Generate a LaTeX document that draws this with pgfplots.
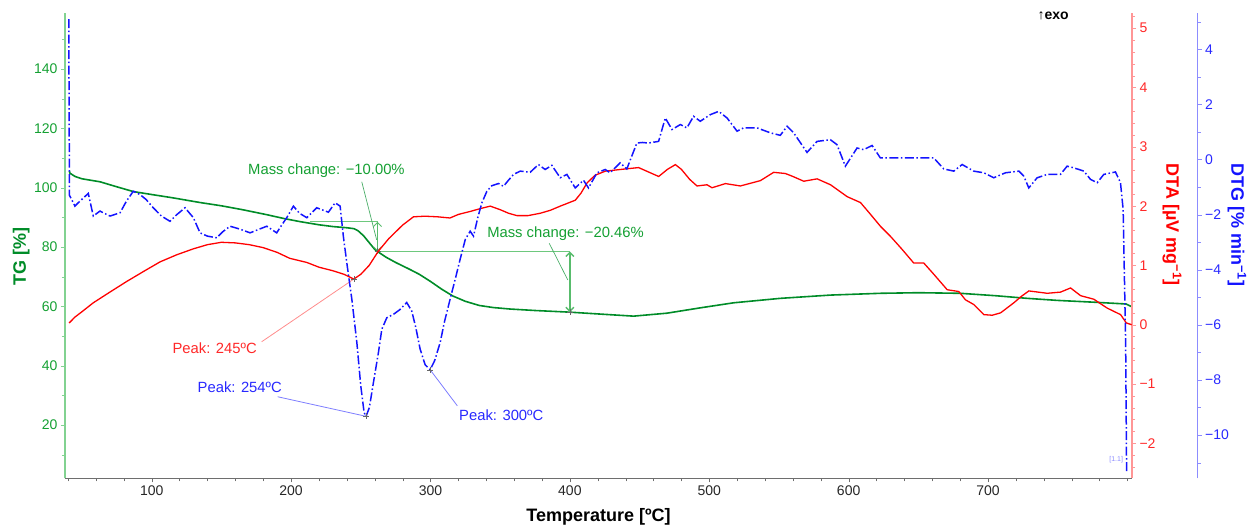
\documentclass[border=0pt]{standalone}
\usepackage{fontspec}
\setmainfont{Liberation Sans}
\usepackage{pgfplots}
\pgfplotsset{compat=1.18}
\usetikzlibrary{arrows.meta}

\definecolor{tgline}{RGB}{0,140,40}
\definecolor{tgtext}{RGB}{20,160,50}
\definecolor{tgaxis}{RGB}{130,210,145}
\definecolor{tgread}{RGB}{110,200,125}
\definecolor{dtaline}{RGB}{255,0,0}
\definecolor{dtatext}{RGB}{255,40,40}
\definecolor{dtaaxis}{RGB}{255,150,150}
\definecolor{dtgline}{RGB}{20,20,255}
\definecolor{dtgtext}{RGB}{40,40,255}
\definecolor{dtgaxis}{RGB}{140,140,255}
\definecolor{xaxis}{RGB}{110,110,110}

\pgfplotsset{
  panel/.style={
    scale only axis, height=465.3pt,
    at={(65pt,49.7pt)}, anchor=south west,
    xmin=37.8, clip=false,
    tick align=outside,
    major tick length=4pt, minor tick length=3pt,
    /pgf/number format/assume math mode=true,
    tick label style={font=\fontsize{14}{14}\selectfont},
    axis line style={-},
  },
}
\tikzset{
  annot/.style={font=\fontsize{14.8}{14.8}\selectfont, inner sep=0pt},
  axtitle/.style={font=\fontsize{18}{18}\selectfont\bfseries},
}

\begin{document}
\begin{tikzpicture}
\useasboundingbox (0pt,0pt) rectangle (1255pt,528pt);

% ---------------- TG (mass) ----------------
\begin{axis}[panel, width=1067pt, xmax=803.3,
  ymin=2.03, ymax=158.9,
  axis x line*=bottom, axis y line*=left,
  xtick={100,200,...,700}, minor xtick={40,60,...,800},
  ytick={20,40,...,140}, minor ytick={10,20,...,150},
  x axis line style={draw=xaxis, line width=0.9pt},
  y axis line style={draw=tgaxis, line width=1.3pt},
  xtick style={draw=xaxis}, ytick style={draw=tgaxis},
  xticklabel style={text=black!85},
  yticklabel style={text=tgtext},
  xlabel={\fontsize{18}{18}\selectfont\bfseries Temperature [ºC]},
  xlabel style={yshift=-6pt},
]
\addplot[tgline, line width=1.6pt] table {
41.0 105.6
41.3 104.9
45 103.8
50 103.0
62.9 102.0
75 100.3
86.8 98.7
100 97.7
115 96.6
134.7 95.0
150 93.9
165 92.6
182.6 90.9
195 89.6
206 88.6
220 87.5
230 86.9
240 86.5
245 86.2
248 85.5
252 83.8
256 81.5
260 79.2
262 78.5
268 76.6
275 74.8
285 72.5
292 70.8
300 68.4
308 65.8
316 63.5
325 61.7
335 60.3
345 59.6
357 59.1
375 58.6
400 58.04
425 57.3
445.7 56.7
469.7 57.7
493.6 59.5
517.5 61.2
551 62.7
587 63.8
622.8 64.4
650 64.6
680 64.4
705 63.6
728 62.7
750 62.0
775.9 61.4
799 60.8
803 59.9
};
\addplot[only marks, mark=+, mark size=3pt, black!60] coordinates {(262,78.5) (400,58.04)};

% mass change read-outs
\draw[tgread, line width=1pt] (axis cs:213.7,88.5) -- (axis cs:262,88.5);
\draw[tgread, line width=1pt] (axis cs:262,78.5) -- (axis cs:400,78.5);
\draw[tgread!80!tgline, line width=1pt, {Straight Barb[length=4pt]}-{Straight Barb[length=4pt]}]
  (axis cs:262,88.5) -- (axis cs:262,78.5);
\draw[tgread!80!tgline, line width=1.4pt, {Straight Barb[length=4pt]}-{Straight Barb[length=4pt]}]
  (axis cs:400,78.5) -- (axis cs:400,58.04);
\draw[tgline!70, line width=0.7pt] (axis cs:250.7,102.0) -- (axis cs:261.4,82.4);
\draw[tgline!70, line width=0.7pt] (axis cs:385.2,81.25) -- (axis cs:398.5,68.9);
\node[annot, anchor=west, text=tgtext] at (axis cs:169.1,105.7) {Mass change: −10.00\%};
\node[annot, anchor=west, text=tgtext] at (axis cs:340.6,84.6) {Mass change: −20.46\%};

\node[axtitle, rotate=90, text=tgline] at (rel axis cs:-0.041,0.476) {TG [\%]};
\node[font=\fontsize{14}{14}\selectfont\bfseries, text=black] at (rel axis cs:0.926,0.9936) {↑exo};
\end{axis}

% ---------------- DTA ----------------
\begin{axis}[panel, width=1067pt, xmax=803.3,
  hide x axis, axis y line*=right,
  ymin=-2.59, ymax=5.257,
  ytick={-2,-1,0,1,2,3,4,5}, yticklabels={−2,−1,0,1,2,3,4,5},
  minor ytick={-2.4,-2.2,-1.8,-1.6,-1.4,-1.2,-0.8,-0.6,-0.4,-0.2,0.2,0.4,0.6,0.8,1.2,1.4,1.6,1.8,2.2,2.4,2.6,2.8,3.2,3.4,3.6,3.8,4.2,4.4,4.6,4.8,5.2},
  y axis line style={draw=dtaaxis, line width=1.3pt},
  ytick style={draw=dtaaxis}, yticklabel style={text=dtatext},
]
\addplot[dtaline, line width=1.3pt] table {
40.8 0.03
45 0.13
50 0.22
58.1 0.37
70 0.55
82.1 0.73
95 0.91
106 1.06
118 1.18
129.9 1.28
140 1.35
150 1.39
160 1.38
170 1.35
180 1.30
190 1.22
199 1.12
211.3 1.05
220 0.97
230 0.91
238 0.85
245 0.77
250 0.85
256 1.00
262.6 1.24
270 1.45
280 1.68
287.8 1.82
296 1.83
305 1.82
314 1.80
320 1.86
328.5 1.91
336 1.96
342.9 2.00
350 1.94
356 1.88
362 1.84
370 1.84
378.8 1.88
386 1.93
393.1 2.00
403.9 2.10
408 2.22
412.3 2.39
418 2.52
425.4 2.59
441 2.63
449.3 2.65
456 2.58
463.7 2.50
470 2.62
475.7 2.70
480 2.62
486 2.45
491.2 2.34
498.4 2.36
502 2.31
511.6 2.38
522.3 2.34
536.7 2.43
546.2 2.57
554.6 2.55
560 2.50
567.8 2.42
577.4 2.46
587 2.36
598.9 2.16
608.5 2.06
615 1.88
622.8 1.66
630 1.49
638 1.28
646.7 1.04
653.9 1.04
660 0.88
670.7 0.59
679 0.56
683.8 0.42
689.8 0.34
697 0.17
703 0.16
709 0.20
718.5 0.37
724 0.48
729.3 0.57
742.5 0.53
752 0.55
759.2 0.62
766.4 0.49
775.9 0.43
785.5 0.28
795.1 0.17
799.2 0.03
803 0.0
};
\addplot[only marks, mark=+, mark size=3pt, black!60] coordinates {(245,0.77)};
\draw[dtaline!45, line width=0.8pt] (axis cs:178.9,-0.287) -- (axis cs:245,0.77);
\node[annot, anchor=east, text=dtatext] at (axis cs:175.5,-0.398) {Peak: 245ºC};
\node[axtitle, rotate=-90, text=dtaline] at (rel axis cs:1.0375,0.545) {DTA [µV mg\textsuperscript{−1}]};
\end{axis}

% ---------------- DTG ----------------
\begin{axis}[panel, width=1132.7pt, xmax=850.5,
  hide x axis, axis y line*=right,
  ymin=-11.57, ymax=5.32,
  ytick={-10,-8,-6,-4,-2,0,2,4}, yticklabels={−10,−8,−6,−4,−2,0,2,4},
  minor ytick={-11,-9,-7,-5,-3,-1,1,3,5},
  y axis line style={draw=dtgaxis, line width=1.3pt},
  ytick style={draw=dtgaxis}, yticklabel style={text=dtgtext},
]
\addplot[dtgline, line width=1.5pt, dash pattern=on 9pt off 2.5pt on 1.5pt off 2.5pt] table {
40.5 5.1
41.0 -1.3
42.6 -1.45
44.9 -1.69
48.5 -1.51
54.5 -1.23
58.1 -2.05
62.9 -1.87
66 -1.95
70.1 -2.05
77.3 -1.93
82 -1.5
86.8 -1.15
91.6 -1.27
96 -1.45
101.1 -1.75
107 -2.05
113.1 -2.24
118 -2.0
123.9 -1.75
129.9 -2.11
134.7 -2.66
140 -2.78
146.7 -2.84
151 -2.62
156.2 -2.42
163 -2.52
170.6 -2.66
176 -2.55
182.6 -2.42
189.7 -2.66
193 -2.40
196.9 -2.11
201.7 -1.69
206 -1.95
211.3 -2.11
218.4 -1.75
226.8 -1.91
231.6 -1.57
235.2 -1.69
237.5 -2.78
240 -3.75
243.6 -5.07
247.2 -6.64
250 -8.21
252.4 -9.18
253.8 -9.32
256.2 -9.0
259.1 -8.09
262.7 -7.0
265.1 -6.16
268.7 -5.74
273.4 -5.62
278 -5.45
283 -5.19
286.6 -5.50
289.5 -6.1
292.6 -6.88
296.2 -7.45
299.8 -7.63
303 -7.3
307 -6.64
310 -5.9
314.1 -5.07
318 -4.3
321.3 -3.62
325 -2.9
328.5 -2.60
330.9 -2.78
334 -2.1
336.9 -1.57
340.5 -1.15
344 -0.95
348.8 -0.87
352.4 -0.97
356 -0.75
359.6 -0.54
364.4 -0.42
371.6 -0.46
377.5 -0.18
382.3 -0.36
387.1 -0.21
393.1 -0.66
397.9 -0.54
403.9 -1.03
409.8 -0.75
413.4 -1.03
419.5 -0.48
425.4 -0.36
428.9 -0.48
436.1 -0.12
440.9 -0.34
448.1 0.60
452 0.62
456.5 0.60
463.7 0.66
468.5 1.51
473.3 1.09
479.3 1.27
484 1.15
488.8 1.57
493.6 1.39
500.8 1.63
506.8 1.75
512.8 1.51
520 1.03
524.7 1.15
534.3 1.15
543.9 0.97
551 0.88
555.9 1.21
560.6 0.97
570.2 0.26
577.4 0.66
587 0.72
591.7 0.54
597.7 -0.24
606.1 0.42
610.8 0.36
616.9 0.51
622.8 0.06
634.8 0.06
661.1 0.06
668.3 -0.34
675.5 -0.42
681.5 -0.18
689.8 -0.42
697 -0.48
704.2 -0.66
712.6 -0.48
722.2 -0.42
725.7 -0.6
729.3 -1.03
735.3 -0.66
742.5 -0.54
752 -0.54
756.8 -0.24
761.6 -0.30
768.8 -0.42
773.6 -0.72
778.4 -0.84
783.1 -0.54
791.5 -0.45
795.1 -0.84
797 -1.81
798.8 -6.64
799.5 -11.35
};
\addplot[only marks, mark=+, mark size=3pt, black!60] coordinates {(253.8,-9.32) (299.8,-7.63)};
\draw[dtgline!55, line width=0.8pt] (axis cs:190.4,-8.61) -- (axis cs:253.8,-9.32);
\draw[dtgline!55, line width=0.8pt] (axis cs:319.3,-8.94) -- (axis cs:299.8,-7.63);
\node[annot, anchor=east, text=dtgtext] at (axis cs:193.5,-8.28) {Peak: 254ºC};
\node[annot, anchor=west, text=dtgtext] at (axis cs:320.5,-9.27) {Peak: 300ºC};
\node[font=\fontsize{7}{7}\selectfont, text=dtgaxis] at (rel axis cs:0.928,0.039) {[1.1]};
\node[axtitle, rotate=-90, text=dtgline] at (rel axis cs:1.0347,0.545) {DTG [\% min\textsuperscript{−1}]};
\end{axis}
\end{tikzpicture}
\end{document}
